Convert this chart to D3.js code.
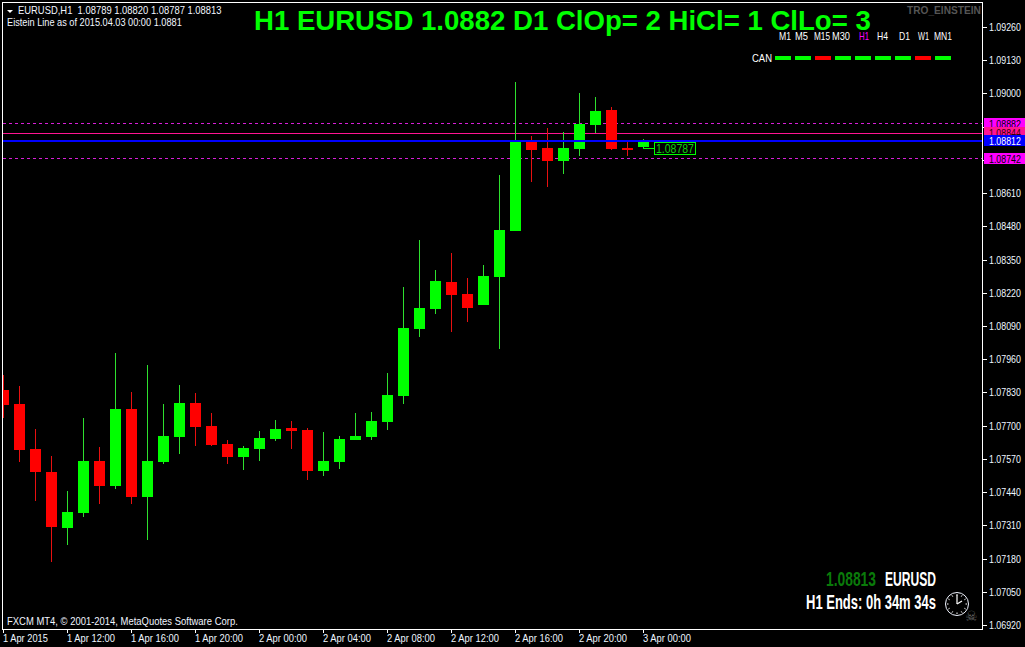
<!DOCTYPE html>
<html><head><meta charset="utf-8">
<script src="https://cdnjs.cloudflare.com/ajax/libs/d3/7.8.5/d3.min.js"></script>
<style>html,body{margin:0;padding:0;background:#000;overflow:hidden}svg{display:block}</style>
</head><body><svg id="c" width="1025" height="647"></svg>
<script>
const opens  = [1.07840,1.07785,1.07609,1.07519,1.07300,1.07358,1.07562,1.07464,1.07765,1.07421,1.07558,1.07656,1.07789,1.07699,1.07628,1.07577,1.07609,1.07648,1.07691,1.07683,1.07523,1.07558,1.07644,1.07656,1.07714,1.07816,1.08078,1.08157,1.08262,1.08215,1.08172,1.08282,1.08462,1.08810,1.08787,1.08736,1.08783,1.08877,1.08935,1.08787,1.08789];
const highs  = [1.07898,1.07855,1.07687,1.07581,1.07444,1.07730,1.07617,1.07984,1.07832,1.07938,1.07785,1.07859,1.07828,1.07750,1.07644,1.07620,1.07679,1.07722,1.07718,1.07691,1.07675,1.07660,1.07750,1.07753,1.07906,1.08243,1.08427,1.08309,1.08376,1.08278,1.08329,1.08681,1.09045,1.08834,1.08865,1.08849,1.09002,1.08986,1.08947,1.08810,1.08820];
const lows   = [1.07730,1.07558,1.07405,1.07167,1.07233,1.07343,1.07393,1.07452,1.07393,1.07253,1.07550,1.07589,1.07620,1.07620,1.07550,1.07527,1.07562,1.07640,1.07609,1.07487,1.07503,1.07530,1.07644,1.07644,1.07683,1.07785,1.08047,1.08137,1.08067,1.08106,1.08172,1.08000,1.08462,1.08654,1.08634,1.08685,1.08755,1.08845,1.08779,1.08755,1.08787];
const closes = [1.07781,1.07605,1.07519,1.07304,1.07362,1.07562,1.07464,1.07765,1.07421,1.07562,1.07660,1.07789,1.07695,1.07624,1.07577,1.07613,1.07652,1.07687,1.07679,1.07523,1.07562,1.07648,1.07660,1.07718,1.07820,1.08082,1.08161,1.08266,1.08211,1.08161,1.08286,1.08466,1.08810,1.08779,1.08736,1.08787,1.08881,1.08931,1.08783,1.08779,1.08813];
const firstBar = Date.UTC(2015,3,1,8);
const lastBar  = Date.UTC(2015,3,3,0);
const hour = 3600000;
const priceTicks = [1.09260,1.09130,1.09000,1.08870,1.08740,1.08610,1.08480,1.08350,1.08220,1.08090,1.07960,1.07830,1.07700,1.07570,1.07440,1.07310,1.07180,1.07050,1.06920];
const coveredTicks = [1.08870,1.08740];
const timeTicks = [8,12,16,20,24,28,32,36,40,44,48].map(h=>Date.UTC(2015,3,1,h));
const timeLabels = ["1 Apr 2015","1 Apr 12:00","1 Apr 16:00","1 Apr 20:00","2 Apr 00:00","2 Apr 04:00","2 Apr 08:00","2 Apr 12:00","2 Apr 16:00","2 Apr 20:00","3 Apr 00:00"];
const dashedLevels = [1.08882,1.08742];
const pivotLevel = 1.08844;
const einsteinLevel = 1.08812;
const lastLow = 1.08787;
const levelTags = [["1.08882","#ff00ff","#000"],["1.08844","#ff1493","#300"],["1.08812","#0000ff","#fff"],["1.08742","#ff00ff","#000"]];
const frames = ["M1","M5","M15","M30","H1","H4","D1","W1","MN1"];
const frameDir = [1,1,-1,1,1,1,1,-1,1];
const frameLeft = [779,795,814,832,859,877,899,918,934];
const frameWidth = [12,13,16,18,10,11,11,11,18];

const UP="#00ff00",DN="#ff0000",UPW="#2ee02e",DNW="#e81010";
const svg=d3.select("#c");
svg.append("rect").attr("width",1025).attr("height",647).attr("fill","#000");
const x=d3.scaleUtc().domain([firstBar,lastBar]).range([3,643]);
const y=d3.scaleLinear().domain([1.0692,1.0926]).range([625,27]);
const ARIAL="'Liberation Sans',Arial,sans-serif";
const SMALL=10.5;
function fit(t,px,py,len){
  const n=t.node().getComputedTextLength();
  t.attr("x",0).attr("y",0).attr("transform",`translate(${px},${py}) scale(${len/n},1)`);
}
function T(s,px,py,size,fill,len,weight,fam){
  const t=svg.append("text").attr("x",px).attr("y",py).attr("font-size",size).attr("fill",fill).attr("font-family",fam||ARIAL).text(s);
  if(weight)t.attr("font-weight",weight);
  if(len)fit(t,px,py,len);
  return t;
}
svg.append("defs").append("clipPath").attr("id","plot").append("rect").attr("x",3).attr("y",3).attr("width",979).attr("height",626);
const plot=svg.append("g").attr("clip-path","url(#plot)").attr("shape-rendering","crispEdges");

plot.selectAll(".dash").data(dashedLevels).join("line").attr("x1",3).attr("x2",982)
  .attr("y1",d=>Math.round(y(d))-.5).attr("y2",d=>Math.round(y(d))-.5)
  .attr("stroke","#d81ed8").attr("stroke-dasharray","3,3");
plot.append("line").attr("x1",3).attr("x2",982).attr("y1",Math.floor(y(pivotLevel))+.5).attr("y2",Math.floor(y(pivotLevel))+.5).attr("stroke","#ff1493");

const bars=d3.range(opens.length).map(i=>({t:firstBar+i*hour,o:opens[i],h:highs[i],l:lows[i],c:closes[i]}));
const g=plot.selectAll(".bar").data(bars).join("g");
g.append("rect").attr("x",d=>Math.round(x(d.t))).attr("width",1)
  .attr("y",d=>Math.round(y(d.h))).attr("height",d=>Math.round(y(d.l))-Math.round(y(d.h)))
  .attr("fill",d=>d.c>=d.o?UPW:DNW);
g.append("rect").attr("x",d=>Math.round(x(d.t))-5).attr("width",11)
  .attr("y",d=>Math.round(y(Math.max(d.o,d.c))))
  .attr("height",d=>Math.max(2,Math.round(y(Math.min(d.o,d.c)))-Math.round(y(Math.max(d.o,d.c)))))
  .attr("fill",d=>d.c>=d.o?UP:DN);

plot.append("rect").attr("x",3).attr("width",979).attr("y",Math.round(y(einsteinLevel))-1).attr("height",2).attr("fill","#0000ff");

const lowY=Math.round(y(lastLow));
plot.append("line").attr("x1",x(lastBar)).attr("x2",654).attr("y1",lowY+.5).attr("y2",lowY+.5).attr("stroke",UP);
plot.append("rect").attr("x",654.5).attr("y",142.5).attr("width",41).attr("height",12).attr("fill","#000").attr("stroke",UP);
T(d3.format(".5f")(lastLow),656,153,12,"#10d010",38);

svg.append("rect").attr("x",2.5).attr("y",2.5).attr("width",980).attr("height",627).attr("fill","none").attr("stroke","#fff").attr("shape-rendering","crispEdges");

const ya=svg.append("g").attr("transform","translate(983,0)").call(d3.axisRight(y).tickValues(priceTicks)
  .tickFormat(d=>coveredTicks.includes(d)?"":d3.format(".5f")(d)).tickSize(4).tickPadding(2));
ya.select(".domain").remove();
ya.selectAll("line").attr("stroke","#fff").attr("shape-rendering","crispEdges");
ya.selectAll("text").attr("fill","#eef6ff").attr("font-family",ARIAL).attr("font-size",SMALL).attr("dy",null)
  .each(function(){ if(this.textContent) fit(d3.select(this),6,3.5,32); });
const xa=svg.append("g").attr("transform","translate(0,630)").call(d3.axisBottom(x).tickValues(timeTicks).tickFormat((d,i)=>timeLabels[i]).tickSize(3).tickPadding(1));
xa.select(".domain").remove();
xa.selectAll("line").attr("stroke","#fff").attr("shape-rendering","crispEdges");
xa.selectAll("text").attr("fill","#eef6ff").attr("font-family",ARIAL).attr("font-size",SMALL).attr("text-anchor","start").attr("dy",null)
  .each(function(d,i){ fit(d3.select(this),-.5,12,i===0?45:48); });

const tagLevels=[dashedLevels[0],pivotLevel,einsteinLevel,dashedLevels[1]];
levelTags.forEach((d,i)=>{
  const yy=y(tagLevels[i]);
  svg.append("rect").attr("x",984).attr("width",41).attr("y",Math.round(yy-6)).attr("height",11).attr("fill",d[1]).attr("shape-rendering","crispEdges");
  T(d[0],989,Math.round(yy-6)+9.5,SMALL,d[2],32);
});

svg.append("path").attr("d",d3.line()([[7,10],[13,10],[10,13]])+"Z").attr("fill","#fff");
T("EURUSD,H1  1.08789 1.08820 1.08787 1.08813",18,14,SMALL,"#f2f6ff",201).style("white-space","pre");
T("Eistein Line as of 2015.04.03 00:00 1.0881",7,26,SMALL,"#f2f6ff",175);
T("FXCM MT4, © 2001-2014, MetaQuotes Software Corp.",7,625,SMALL,"#f2f6ff",231);
T("H1 EURUSD 1.0882 D1 ClOp= 2 HiCl= 1 ClLo= 3",254,30,28,"#00ff00",617,"bold");
T("TRO_EINSTEIN",907,14,11.5,"#555",74,"bold");

const fx=d3.scalePoint().domain(frames).range([783,943]);
frames.forEach((f,i)=>{
  T(f,frameLeft[i],40,SMALL,f==="H1"?"#ff00ff":"#fff",frameWidth[i]);
  svg.append("rect").attr("x",fx(f)-8).attr("y",56).attr("width",16).attr("height",4).attr("fill",frameDir[i]>0?UP:DN).attr("shape-rendering","crispEdges");
});
T("CAN",752,62,SMALL,"#fff",20);

T("1.08813",826,586,20,"#0a7a0a",50,"bold");
T("EURUSD",885,586,20,"#fff",51,"bold");
T("H1 Ends: 0h 34m 34s",806,609,20,"#fff",130,"bold");

const ck=svg.append("g").attr("transform","translate(957,604)");
ck.append("circle").attr("r",11.5).attr("fill","none").attr("stroke","#f0f4ff").attr("stroke-width",1);
d3.range(12).forEach(i=>{const a=i*Math.PI/6;ck.append("line").attr("x1",8.5*Math.sin(a)).attr("y1",-8.5*Math.cos(a)).attr("x2",10*Math.sin(a)).attr("y2",-10*Math.cos(a)).attr("stroke","#fff");});
ck.append("line").attr("x1",0).attr("y1",0).attr("x2",0).attr("y2",-9).attr("stroke","#fff").attr("stroke-width",1.2);
ck.append("line").attr("x1",0).attr("y1",0).attr("x2",5).attr("y2",-3).attr("stroke","#fff").attr("stroke-width",1.2);
T("☠",965,621,14,"#666",null,null,"'DejaVu Sans',sans-serif");
</script></body></html>
